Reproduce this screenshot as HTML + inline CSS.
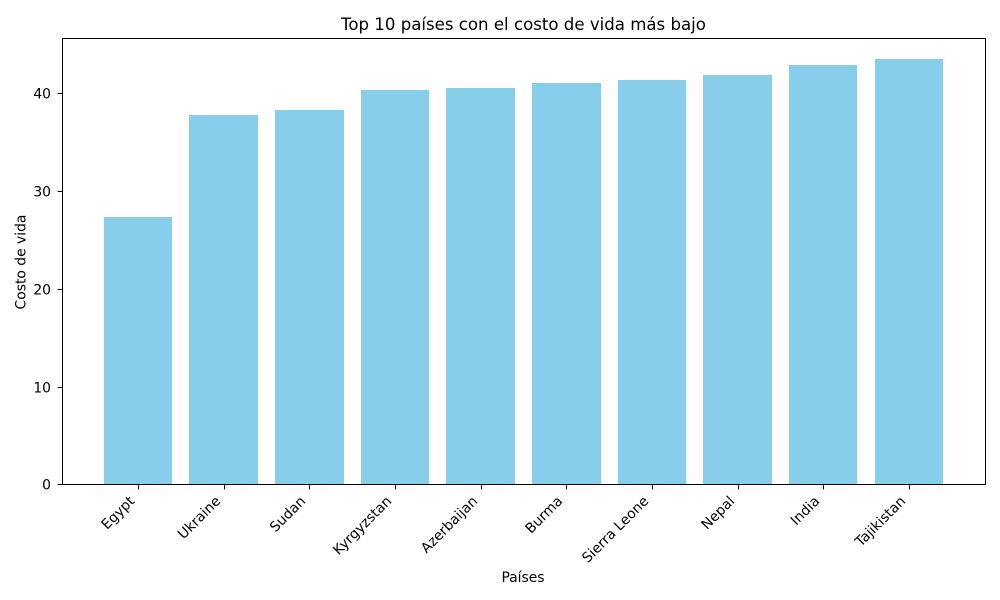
<!DOCTYPE html>
<html lang="es">
<head>
<meta charset="utf-8">
<title>Top 10 países con el costo de vida más bajo</title>
<style>
html,body{margin:0;padding:0;background:#fff;width:1000px;height:600px;overflow:hidden}
svg{display:block}
text{font-family:"DejaVu Sans","Liberation Sans",sans-serif;fill:#000}
</style>
</head>
<body>
<svg id="chart" xmlns="http://www.w3.org/2000/svg" width="1000" height="600" viewBox="0 0 1000 600">
<rect x="0" y="0" width="1000" height="600" fill="#fff"></rect>
<text x="523.5" y="30" font-size="16.6" text-anchor="middle">Top 10 países con el costo de vida más bajo</text>
<text x="523" y="582" font-size="13.89" text-anchor="middle">Países</text>
<text transform="translate(25.5 262) rotate(-90)" font-size="13.89" text-anchor="middle">Costo de vida</text>
<g id="bars" shape-rendering="crispEdges"></g>
<g id="xticks"></g>
<g id="yticks"></g>
<rect x="62.5" y="38.5" width="923" height="446" fill="none" stroke="#000" stroke-width="1"></rect>
</svg>
<script>
const categories = ["Egypt","Ukraine","Sudan","Kyrgyzstan","Azerbaijan","Burma","Sierra Leone","Nepal","India","Tajikistan"];
const costValues = [27.3,37.8,38.3,40.3,40.5,41.05,41.4,41.9,42.9,43.5];
const yTickValues = [0,10,20,30,40];

const NS = 'http://www.w3.org/2000/svg';
const plotLeft = 61.85, plotRight = 985.1, plotTop = 37.8, plotBottom = 484.3;
const barFraction = 0.8;
const yMax = Math.max(...costValues) * 1.05;
const xMinData = -barFraction / 2 - 0.05 * (categories.length - 1 + barFraction);
const xMaxData = categories.length - 1 + barFraction / 2 + 0.05 * (categories.length - 1 + barFraction);
function xScale(v) { return plotLeft + (v - xMinData) / (xMaxData - xMinData) * (plotRight - plotLeft); }
function yScale(v) { return plotBottom - v / yMax * (plotBottom - plotTop); }
function make(tag, attrs, parent) {
  const el = document.createElementNS(NS, tag);
  for (const k in attrs) el.setAttribute(k, attrs[k]);
  parent.appendChild(el);
  return el;
}
const barsG = document.getElementById('bars');
const xG = document.getElementById('xticks');
const yG = document.getElementById('yticks');

categories.forEach(function (name, i) {
  const x0 = Math.round(xScale(i - barFraction / 2));
  const x1 = Math.round(xScale(i + barFraction / 2));
  const y = Math.round(yScale(costValues[i]));
  const yBase = Math.round(yScale(0));
  const bar = make('rect', {x: x0, y: y, width: x1 - x0, height: yBase - y, fill: '#87ceeb'}, barsG);
  
  

  const cx = Math.round(xScale(i)) + 0.5;
  const tick = make('line', {x1: cx, x2: cx, y1: 484.5, y2: 484.5 + 4.86, stroke: '#000', 'stroke-width': 1}, xG);
  
  

  const label = make('text', {'font-size': 13.89, 'text-anchor': 'end', transform: 'translate(' + (cx - 9.5) + ' ' + 495.5 + ') rotate(-45) translate(0 9)'}, xG);
  label.textContent = name;
  
  
});

yTickValues.forEach(function (v) {
  const y = Math.round(yScale(v)) + 0.5;
  const tick = make('line', {x1: 62.5, x2: 62.5 - 4.86, y1: y, y2: y, stroke: '#000', 'stroke-width': 1}, yG);
  
  

  const label = make('text', {x: 51, y: y + 5, 'font-size': 13.89, 'text-anchor': 'end'}, yG);
  label.textContent = v;
  
  
});
</script>
</body>
</html>
